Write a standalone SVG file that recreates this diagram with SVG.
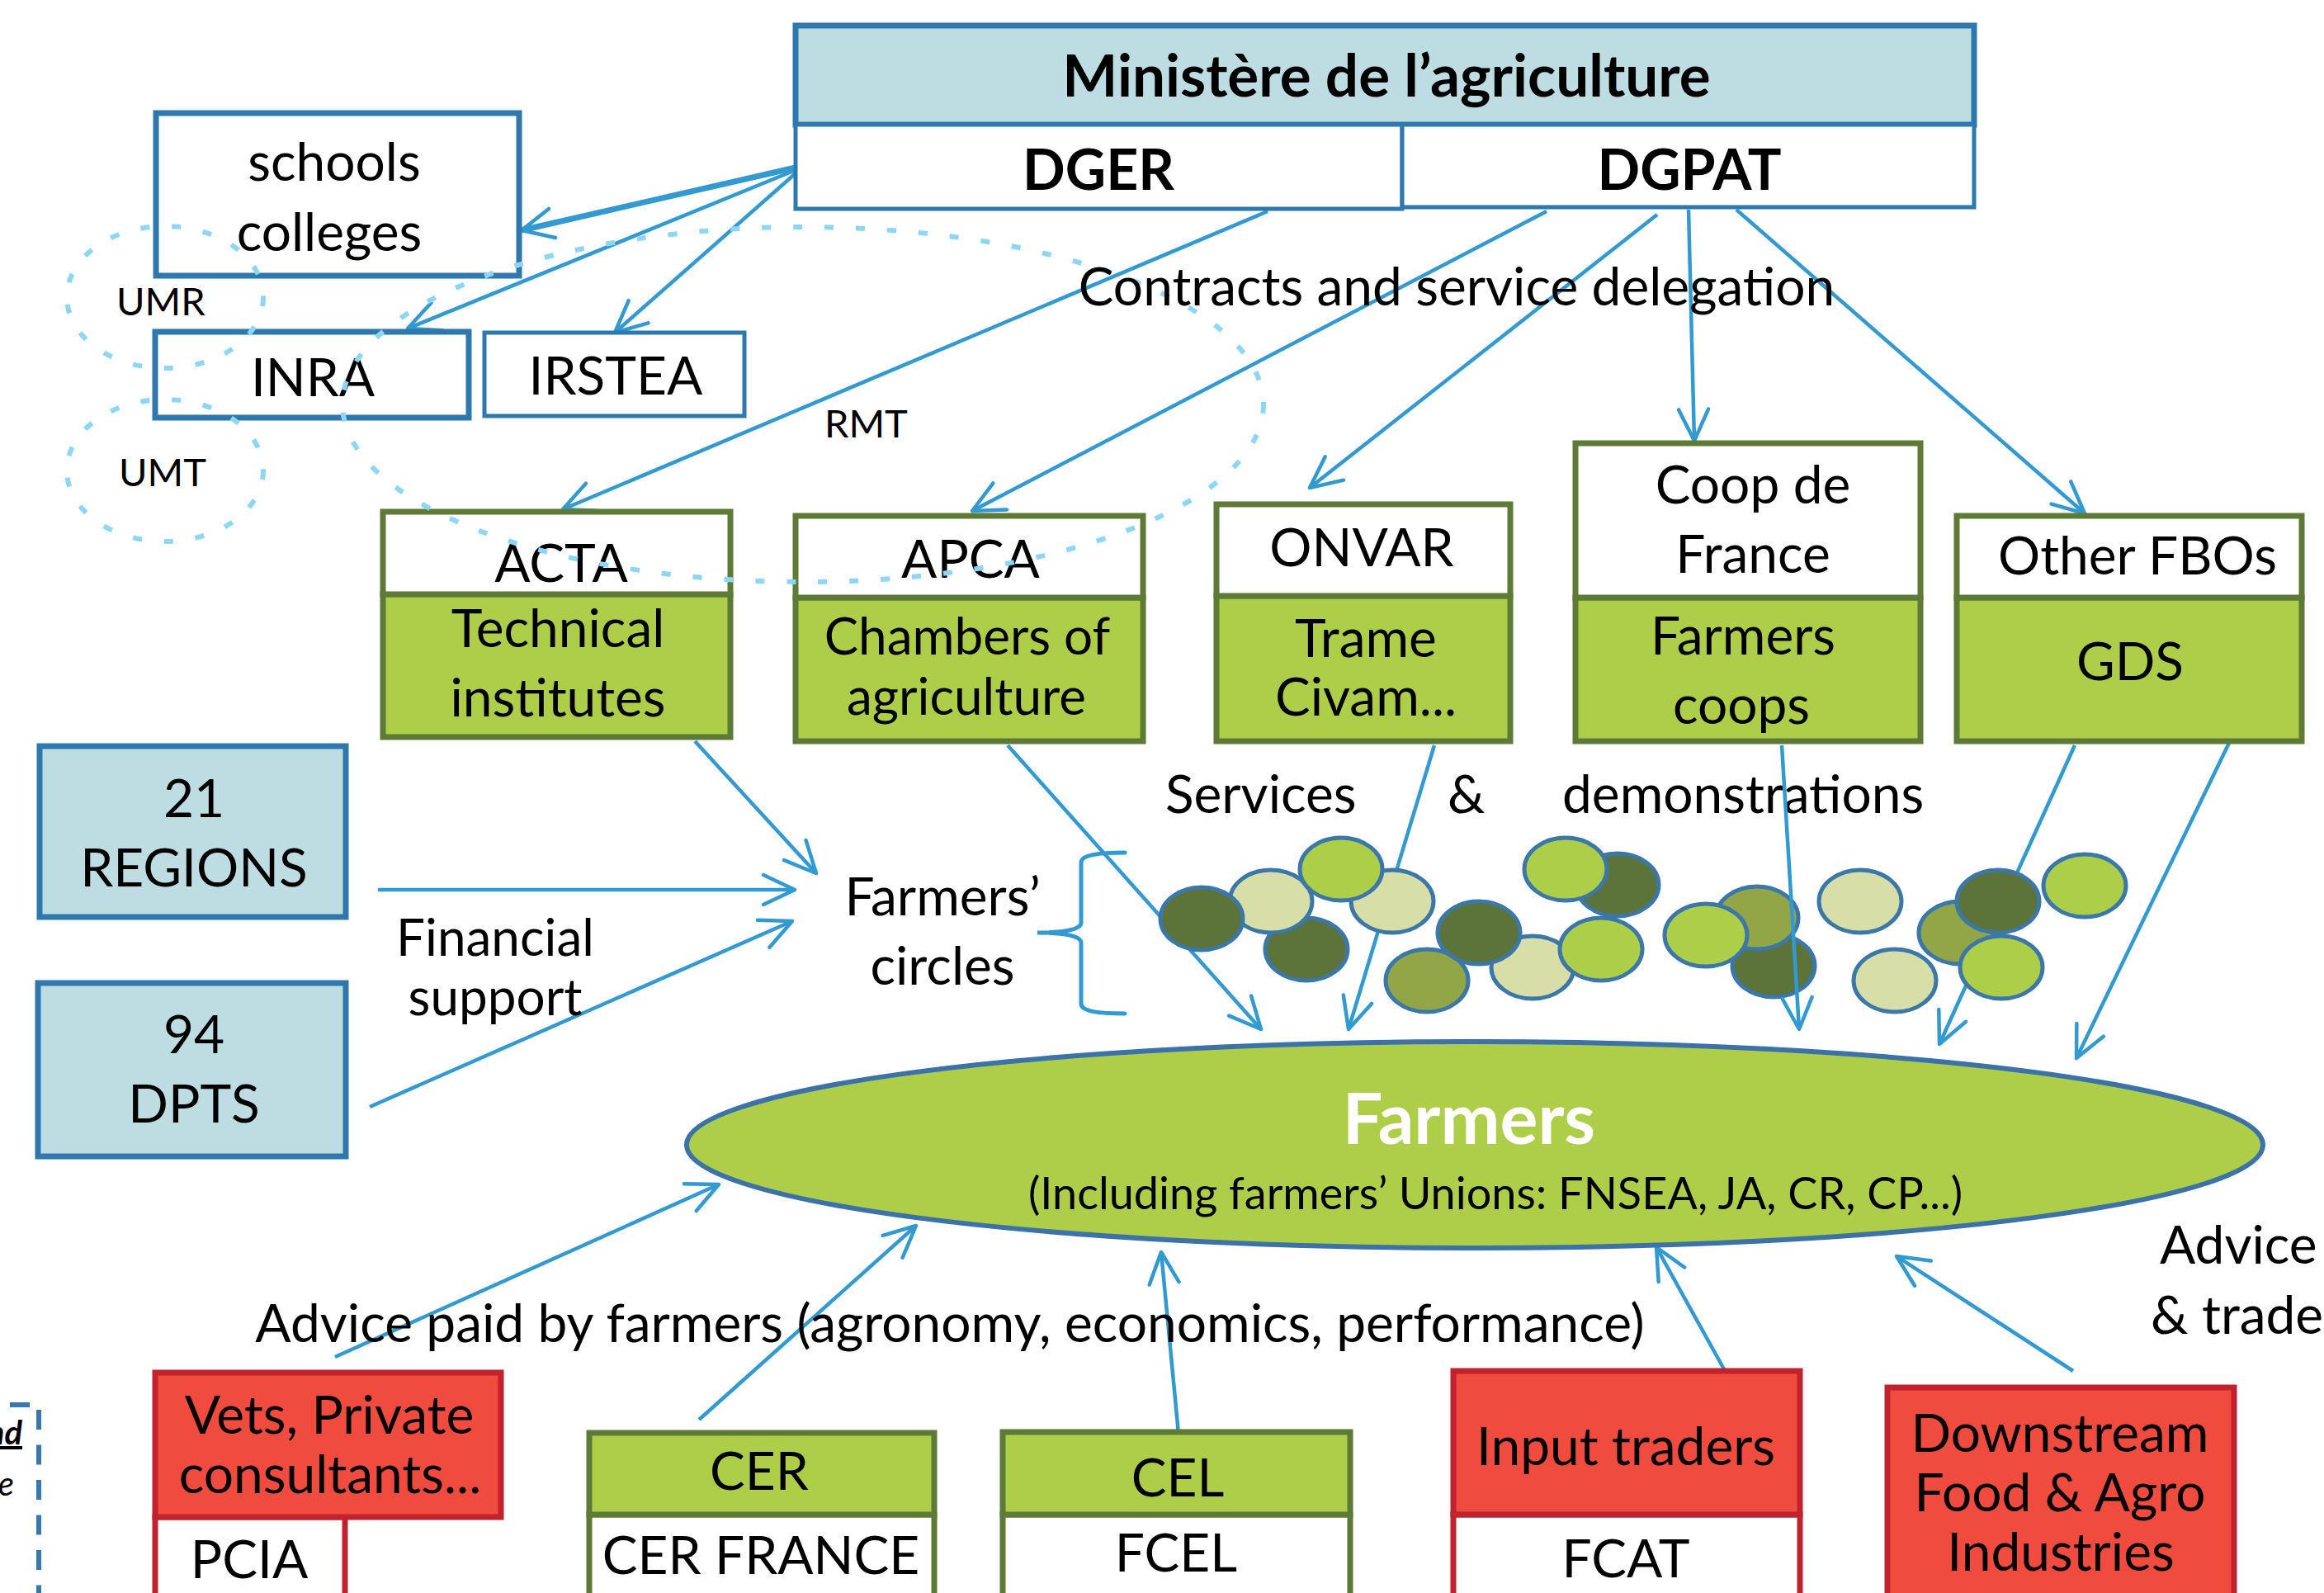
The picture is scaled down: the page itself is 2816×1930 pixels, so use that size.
<svg xmlns="http://www.w3.org/2000/svg" width="2816" height="1930" viewBox="0 0 2816 1930">
<defs>
<style>
text{font-family:Lato,'Liberation Sans',sans-serif;fill:#000}
.c{text-anchor:middle}
.m{font-size:64px}
.m2{font-size:62px}
.s{font-size:47px}
.hb{font-size:68px;font-weight:bold}
.bluebox{fill:#BDDDE2;stroke:#2E78AE;stroke-width:7}
.wbox{fill:#fff;stroke:#2E78AE}
.gh{fill:#fff;stroke:#5E7A37;stroke-width:7}
.gb{fill:#AECE4A;stroke:#5E7A37;stroke-width:7}
.rb{fill:#EF4B3F;stroke:#C1232E;stroke-width:7}
.rw{fill:#fff;stroke:#C1232E;stroke-width:7}
.ln{fill:none;stroke:#3399D1;stroke-width:4.5;marker-end:url(#arr)}
.dash{fill:none;stroke:#8ED6F7;stroke-width:6;stroke-dasharray:11 27}
.ci{stroke:#3B77A8;stroke-width:5}
.dk{fill:#5C743A}.lt{fill:#ADCE49}.pl{fill:#D7DEA8}.md{fill:#93A647}
</style>
<marker id="arr" markerUnits="userSpaceOnUse" viewBox="-46 -24 50 48" refX="0" refY="0" markerWidth="50" markerHeight="48" orient="auto" overflow="visible">
<path d="M-38,-18 L0,0 L-38,18" fill="none" stroke="#3399D1" stroke-width="4.5" stroke-linecap="round" stroke-linejoin="round"/>
</marker>
</defs>
<rect width="2816" height="1930" fill="#fff"/>

<g id="connectors-back">
<path class="ln" d="M964,206 L494,398"/>
<path class="ln" d="M964,210 L745,403"/>
<path class="ln" d="M1536,256 L682,617"/>
<path class="ln" d="M1874,256 L1178,619"/>
<path class="ln" d="M2008,260 L1587,591"/>
<path class="ln" d="M2046,254 L2053,534"/>
<path class="ln" d="M2104,254 L2526,622"/>
<path class="ln" d="M842,898 L989,1058"/>
<path class="ln" d="M458,1078 L963,1078"/>
<path class="ln" d="M448,1341 L960,1116"/>
<path class="ln" d="M1221,903 L1528,1247"/>
<path class="ln" d="M1738,903 L1634,1247"/>
<path class="ln" d="M2514,903 L2350,1265"/>
<path class="ln" d="M2702,898 L2516,1282"/>
<path class="ln" d="M406,1644 L871,1435"/>
<path class="ln" d="M847,1720 L1110,1485"/>
<path class="ln" d="M1428,1737 L1407,1517"/>
<path class="ln" d="M2093,1666 L2007,1511"/>
<path class="ln" d="M2512,1661 L2298,1522"/>
<path class="ln" style="stroke-width:7" d="M964,203 L632,279"/>
</g>

<g id="ministere">
<rect class="bluebox" x="964" y="31" width="1428" height="120"/>
<text class="c" x="1680" y="117" style="font-size:71px;font-weight:bold">Ministère de l’agriculture</text>
</g>
<g id="dger">
<rect class="wbox" x="964" y="151" width="735" height="102" stroke-width="5"/>
<text class="c hb" x="1331" y="230">DGER</text>
</g>
<g id="dgpat">
<rect class="wbox" x="1699" y="151" width="693" height="100" stroke-width="5"/>
<text class="c hb" x="2047" y="230">DGPAT</text>
</g>

<g id="schools">
<rect class="wbox" x="189" y="137" width="440" height="197" stroke-width="7"/>
<text class="c m" x="405" y="219">schools</text>
<text class="c m" x="399" y="304">colleges</text>
</g>
<g id="inra">
<rect class="wbox" x="188" y="402" width="380" height="104" stroke-width="7"/>
<text class="c m" x="379" y="480">INRA</text>
</g>
<g id="irstea">
<rect class="wbox" x="587" y="403" width="315" height="101" stroke-width="5"/>
<text class="c m" x="746" y="478">IRSTEA</text>
</g>

<g id="acta">
<rect class="gb" x="464" y="720" width="421" height="173"/>
<rect class="gh" x="464" y="620" width="421" height="100"/>
<text class="c m" x="680" y="705">ACTA</text>
<text class="c m" x="676" y="784">Technical</text>
<text class="c m" x="676" y="868">institutes</text>
</g>
<g id="apca">
<rect class="gb" x="964" y="724" width="421" height="174"/>
<rect class="gh" x="964" y="625" width="421" height="99"/>
<text class="c m" x="1176" y="700">APCA</text>
<text class="c m2" x="1172" y="793">Chambers of</text>
<text class="c m2" x="1171" y="866">agriculture</text>
</g>
<g id="onvar">
<rect class="gb" x="1474" y="722" width="356" height="176"/>
<rect class="gh" x="1474" y="611" width="356" height="111"/>
<text class="c m" x="1650" y="686">ONVAR</text>
<text class="c m" x="1655" y="796">Trame</text>
<text class="c m" x="1655" y="867">Civam...</text>
</g>
<g id="coop">
<rect class="gb" x="1909" y="724" width="418" height="174"/>
<rect class="gh" x="1909" y="537" width="418" height="187"/>
<text class="c m" x="2124" y="610">Coop de</text>
<text class="c m" x="2124" y="694">France</text>
<text class="c m" x="2112" y="793">Farmers</text>
<text class="c m" x="2110" y="877">coops</text>
</g>
<g id="fbos">
<rect class="gb" x="2371" y="724" width="418" height="174"/>
<rect class="gh" x="2371" y="625" width="418" height="99"/>
<text class="c m" x="2590" y="696">Other FBOs</text>
<text class="c m" x="2581" y="824">GDS</text>
</g>

<g id="regions">
<rect class="bluebox" x="48" y="904" width="371" height="207"/>
<text class="c m" x="235" y="990">21</text>
<text class="c m" x="235" y="1074">REGIONS</text>
</g>
<g id="dpts">
<rect class="bluebox" x="46" y="1191" width="373" height="210"/>
<text class="c m" x="235" y="1276">94</text>
<text class="c m" x="235" y="1360">DPTS</text>
</g>

<g id="dashed-groups">
<ellipse class="dash" cx="200" cy="360" rx="119" ry="86"/>
<ellipse class="dash" cx="200" cy="570" rx="119" ry="86"/>
<ellipse class="dash" cx="973" cy="490" rx="558" ry="215"/>
<text x="141" y="382" class="s">UMR</text>
<text x="144" y="589" class="s">UMT</text>
<text x="999" y="530" class="s">RMT</text>
</g>

<g id="labels">
<text class="c m" x="1765" y="370">Contracts and service delegation</text>
<text class="c m2" x="600" y="1158">Financial</text>
<text class="c m2" x="600" y="1230">support</text>
<text class="c m" x="1142" y="1109">Farmers’</text>
<text class="c m" x="1142" y="1193">circles</text>
<text class="m" x="1412" y="985">Services</text>
<text class="m" x="1754" y="985">&amp;</text>
<text class="m" x="1893" y="985">demonstrations</text>
<text class="c m" x="1151" y="1626">Advice paid by farmers (agronomy, economics, performance)</text>
<text class="m" x="2617" y="1531">Advice</text>
<text class="m" x="2606" y="1616">&amp; trade</text>
</g>

<g id="brace">
<path d="M1363,1033 C1330,1033 1310,1036 1310,1045 L1310,1118 C1310,1126 1290,1130 1257,1130 C1290,1130 1310,1134 1310,1142 L1310,1216 C1310,1225 1330,1228 1363,1228" fill="none" stroke="#3399D1" stroke-width="5" stroke-linecap="round"/>
</g>

<g id="farmers-circles">
<ellipse class="ci dk" cx="1583" cy="1150" rx="50" ry="38"/>
<ellipse class="ci pl" cx="1540" cy="1092" rx="50" ry="38"/>
<ellipse class="ci dk" cx="1456" cy="1113" rx="50" ry="38"/>
<ellipse class="ci pl" cx="1687" cy="1092" rx="50" ry="38"/>
<ellipse class="ci lt" cx="1625" cy="1053" rx="50" ry="38"/>
<ellipse class="ci dk" cx="1960" cy="1072" rx="50" ry="38"/>
<ellipse class="ci lt" cx="1897" cy="1053" rx="50" ry="38"/>
<ellipse class="ci md" cx="1729" cy="1188" rx="50" ry="38"/>
<ellipse class="ci pl" cx="1857" cy="1172" rx="50" ry="38"/>
<ellipse class="ci dk" cx="1792" cy="1130" rx="50" ry="38"/>
<ellipse class="ci lt" cx="1940" cy="1150" rx="50" ry="38"/>
<ellipse class="ci dk" cx="2149" cy="1170" rx="50" ry="38"/>
<ellipse class="ci md" cx="2129" cy="1112" rx="50" ry="38"/>
<ellipse class="ci lt" cx="2067" cy="1133" rx="50" ry="38"/>
<ellipse class="ci pl" cx="2254" cy="1092" rx="50" ry="38"/>
<ellipse class="ci pl" cx="2296" cy="1188" rx="50" ry="38"/>
<ellipse class="ci md" cx="2375" cy="1130" rx="50" ry="38"/>
<ellipse class="ci dk" cx="2421" cy="1092" rx="50" ry="38"/>
<ellipse class="ci lt" cx="2425" cy="1172" rx="50" ry="38"/>
<ellipse class="ci lt" cx="2526" cy="1073" rx="50" ry="38"/>
</g>

<g id="connectors-front">
<path class="ln" d="M2159,903 L2180,1247"/>
</g>

<g id="farmers">
<ellipse cx="1787" cy="1387" rx="955" ry="125" fill="#AECE4A" stroke="#3C72A8" stroke-width="6"/>
<text class="c" x="1780" y="1386" style="font-size:86px;font-weight:bold;fill:#fff">Farmers</text>
<text class="c" x="1812" y="1465" style="font-size:54px">(Including farmers’ Unions: FNSEA, JA, CR, CP...)</text>
</g>

<g id="vets">
<rect class="rw" x="188" y="1838" width="230" height="110"/>
<rect class="rb" x="188" y="1663" width="419" height="175"/>
<text class="c m" x="399" y="1737">Vets, Private</text>
<text class="c m" x="400" y="1809">consultants...</text>
<text class="c m" x="302" y="1912">PCIA</text>
</g>
<g id="cer">
<rect class="gh" x="714" y="1835" width="418" height="110"/>
<rect class="gb" x="714" y="1736" width="418" height="99"/>
<text class="c m" x="920" y="1805">CER</text>
<text class="c m" x="922" y="1907">CER FRANCE</text>
</g>
<g id="cel">
<rect class="gh" x="1215" y="1835" width="421" height="110"/>
<rect class="gb" x="1215" y="1735" width="421" height="100"/>
<text class="c m" x="1427" y="1813">CEL</text>
<text class="c m" x="1425" y="1904">FCEL</text>
</g>
<g id="input-traders">
<rect class="rw" x="1761" y="1835" width="420" height="110"/>
<rect class="rb" x="1761" y="1661" width="420" height="174"/>
<text class="c m" x="1970" y="1775">Input traders</text>
<text class="c m" x="1970" y="1911">FCAT</text>
</g>
<g id="downstream">
<rect class="rb" x="2287" y="1681" width="420" height="270"/>
<text class="c m" x="2496" y="1759">Downstream</text>
<text class="c m" x="2496" y="1831">Food &amp; Agro</text>
<text class="c m" x="2497" y="1903">Industries</text>
</g>

<g id="left-fragment">
<path d="M12,1702 H36 M47,1708 V1940" fill="none" stroke="#3A78AA" stroke-width="6" stroke-dasharray="24 18.5"/>
<text x="27" y="1750" style="font-size:40px;font-weight:bold;font-style:italic;text-anchor:end;text-decoration:underline">nd</text>
<text x="17" y="1812" style="font-size:40px;font-style:italic;text-anchor:end">e</text>
</g>
</svg>
